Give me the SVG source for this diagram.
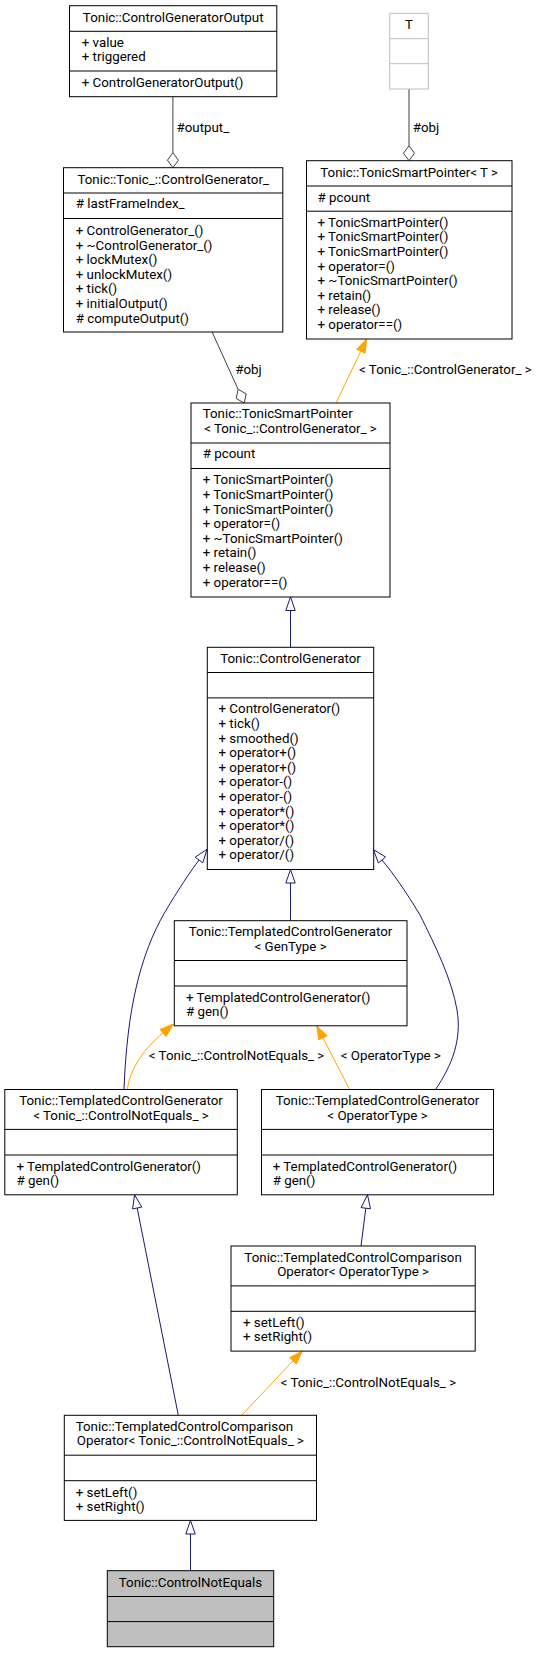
<svg xmlns="http://www.w3.org/2000/svg" width="540" height="1653" viewBox="0 0 540 1653">
<style>
text{font-family:Roboto,"Liberation Sans",sans-serif;font-size:13.33px;fill:#000}
.c{text-anchor:middle}
.box rect{fill:#fff;stroke:#000;stroke-width:1}
.box line{stroke:#000;stroke-width:1}
#n_T rect,#n_T line{stroke:#bfbfbf}
#n_CNE rect{fill:#bfbfbf}
.inh{stroke:#191970;fill:none;stroke-width:1}
.inhh{stroke:#191970;fill:#fff;stroke-width:1}
.tpl{stroke:#ffa500;fill:none;stroke-width:1}
.tplh{stroke:#ffa500;fill:#ffa500;stroke-width:1}
.use{stroke:#404040;fill:none;stroke-width:1}
.useh{stroke:#404040;fill:#fff;stroke-width:1}
</style>
<rect width="540" height="1653" fill="#fff"/>
<g id="edges">
<line class="use" x1="172.9" y1="96.7" x2="172.9" y2="152.7"/>
<polygon class="useh" points="172.9,167.7 178.4,160.2 172.9,152.7 167.4,160.2"/>
<text x="176.5" y="131.7">#output_</text>
<line class="use" x1="409" y1="89" x2="409" y2="145.7"/>
<polygon class="useh" points="409,160.7 414.5,153.2 409,145.7 403.5,153.2"/>
<text x="412.7" y="131.7">#obj</text>
<line class="use" x1="212.1" y1="332" x2="238.1" y2="389.3"/>
<polygon class="useh" points="244.3,403 246.2,393.9 238.1,389.3 236.2,398.5"/>
<text x="235.3" y="374.3">#obj</text>
<line class="tpl" x1="336" y1="403" x2="360.9" y2="351.2"/>
<polygon class="tplh" points="366.7,339 365.1,353.2 356.7,349.2"/>
<text x="359" y="374.3">&lt; Tonic_::ControlGenerator_ &gt;</text>
<line class="inh" x1="290.5" y1="647.3" x2="290.5" y2="610.5"/>
<polygon class="inhh" points="290.5,597 295.2,610.5 285.8,610.5"/>
<line class="inh" x1="290.5" y1="920.7" x2="290.5" y2="883"/>
<polygon class="inhh" points="290.5,869.5 295.2,883 285.8,883"/>
<path class="inh" d="M124,1089.5 C127,1010 140,955 165,912 C178,890 190,872 199,860"/>
<polygon class="inhh" points="207.1,849.2 202.8,862.8 195.2,857.2"/>
<path class="inh" d="M435.6,1089.5 C452,1065 462,1040 457,1010 C452,980 435,945 420,915 C405,890 392,872 382,860"/>
<polygon class="inhh" points="373.4,849.6 385.6,857 378.4,863"/>
<path class="tpl" d="M127.4,1089.5 C130,1068 145,1048 163,1033"/>
<polygon class="tplh" points="173.6,1024 166,1036.6 160,1029.4"/>
<text x="148.8" y="1060">&lt; Tonic_::ControlNotEquals_ &gt;</text>
<line class="tpl" x1="349.5" y1="1089.5" x2="323" y2="1037.8"/>
<polygon class="tplh" points="316.8,1025.8 327.2,1035.7 318.8,1040"/>
<text x="340.7" y="1060">&lt; OperatorType &gt;</text>
<line class="inh" x1="361" y1="1246" x2="365.8" y2="1208.2"/>
<polygon class="inhh" points="367.5,1194.8 370.5,1208.8 361.1,1207.6"/>
<line class="inh" x1="178.3" y1="1415.3" x2="137.2" y2="1208"/>
<polygon class="inhh" points="134.6,1194.8 141.8,1207.1 132.6,1208.9"/>
<line class="tpl" x1="241.7" y1="1415.3" x2="293" y2="1360.9"/>
<polygon class="tplh" points="302.3,1351.1 296.4,1364.1 289.6,1357.7"/>
<text x="280.6" y="1386.7">&lt; Tonic_::ControlNotEquals_ &gt;</text>
<line class="inh" x1="190.5" y1="1570.7" x2="190.5" y2="1534"/>
<polygon class="inhh" points="190.5,1520.4 195.2,1534 185.8,1534"/>
</g>
<g id="n_CGOutput" class="box">
<rect x="69.5" y="5.7" width="207.3" height="91"/>
<line x1="69.5" y1="31.3" x2="276.8" y2="31.3"/>
<line x1="69.5" y1="71" x2="276.8" y2="71"/>
<text class="c" x="173.2" y="21.7">Tonic::ControlGeneratorOutput</text>
<text x="81.7" y="46.7">+ value</text>
<text x="81.7" y="61.3">+ triggered</text>
<text x="81.7" y="86.7">+ ControlGeneratorOutput()</text>
</g>
<g id="n_T" class="box">
<rect x="389.7" y="13.3" width="38.6" height="75.7"/>
<line x1="389.7" y1="38.7" x2="428.3" y2="38.7"/>
<line x1="389.7" y1="63.7" x2="428.3" y2="63.7"/>
<text class="c" x="409" y="29.3">T</text>
</g>
<g id="n_CG_" class="box">
<rect x="63.5" y="167.7" width="219.3" height="164.3"/>
<line x1="63.5" y1="193" x2="282.8" y2="193"/>
<line x1="63.5" y1="218.5" x2="282.8" y2="218.5"/>
<text class="c" x="173.2" y="184">Tonic::Tonic_::ControlGenerator_</text>
<text x="75.7" y="208.3"># lastFrameIndex_</text>
<text x="75.7" y="235">+ ControlGenerator_()</text>
<text x="75.7" y="249.6">+ ~ControlGenerator_()</text>
<text x="75.7" y="264.2">+ lockMutex()</text>
<text x="75.7" y="278.8">+ unlockMutex()</text>
<text x="75.7" y="293.4">+ tick()</text>
<text x="75.7" y="308">+ initialOutput()</text>
<text x="75.7" y="322.6"># computeOutput()</text>
</g>
<g id="n_TSP_T" class="box">
<rect x="306.5" y="160.7" width="205.5" height="178.3"/>
<line x1="306.5" y1="186" x2="512" y2="186"/>
<line x1="306.5" y1="211.2" x2="512" y2="211.2"/>
<text class="c" x="409.2" y="176.7">Tonic::TonicSmartPointer&lt; T &gt;</text>
<text x="317.5" y="201.7"># pcount</text>
<text x="317.5" y="226.8">+ TonicSmartPointer()</text>
<text x="317.5" y="241.4">+ TonicSmartPointer()</text>
<text x="317.5" y="256">+ TonicSmartPointer()</text>
<text x="317.5" y="270.6">+ operator=()</text>
<text x="317.5" y="285.2">+ ~TonicSmartPointer()</text>
<text x="317.5" y="299.8">+ retain()</text>
<text x="317.5" y="314.4">+ release()</text>
<text x="317.5" y="329">+ operator==()</text>
</g>
<g id="n_TSP_CG" class="box">
<rect x="191" y="403" width="199" height="194"/>
<line x1="191" y1="443" x2="390" y2="443"/>
<line x1="191" y1="468.5" x2="390" y2="468.5"/>
<text x="202.7" y="418.3">Tonic::TonicSmartPointer</text>
<text class="c" x="290.5" y="433.3">&lt; Tonic_::ControlGenerator_ &gt;</text>
<text x="202.7" y="458.3"># pcount</text>
<text x="202.7" y="484.3">+ TonicSmartPointer()</text>
<text x="202.7" y="498.9">+ TonicSmartPointer()</text>
<text x="202.7" y="513.5">+ TonicSmartPointer()</text>
<text x="202.7" y="528.1">+ operator=()</text>
<text x="202.7" y="542.7">+ ~TonicSmartPointer()</text>
<text x="202.7" y="557.3">+ retain()</text>
<text x="202.7" y="571.9">+ release()</text>
<text x="202.7" y="586.5">+ operator==()</text>
</g>
<g id="n_CG" class="box">
<rect x="207.3" y="647.3" width="166.4" height="222.2"/>
<line x1="207.3" y1="672.5" x2="373.7" y2="672.5"/>
<line x1="207.3" y1="697.9" x2="373.7" y2="697.9"/>
<text class="c" x="290.5" y="663.3">Tonic::ControlGenerator</text>
<text x="218.5" y="713.3">+ ControlGenerator()</text>
<text x="218.5" y="727.9">+ tick()</text>
<text x="218.5" y="742.5">+ smoothed()</text>
<text x="218.5" y="757.1">+ operator+()</text>
<text x="218.5" y="771.7">+ operator+()</text>
<text x="218.5" y="786.3">+ operator-()</text>
<text x="218.5" y="800.9">+ operator-()</text>
<text x="218.5" y="815.5">+ operator*()</text>
<text x="218.5" y="830.1">+ operator*()</text>
<text x="218.5" y="844.7">+ operator/()</text>
<text x="218.5" y="859.3">+ operator/()</text>
</g>
<g id="n_TCG_Gen" class="box">
<rect x="174.3" y="920.7" width="232.7" height="105.1"/>
<line x1="174.3" y1="960.5" x2="407" y2="960.5"/>
<line x1="174.3" y1="986" x2="407" y2="986"/>
<text class="c" x="290.6" y="936">Tonic::TemplatedControlGenerator</text>
<text class="c" x="290.6" y="950.7">&lt; GenType &gt;</text>
<text x="186" y="1001.7">+ TemplatedControlGenerator()</text>
<text x="186" y="1016.3"># gen()</text>
</g>
<g id="n_TCG_CNE" class="box">
<rect x="4.8" y="1089.5" width="232.5" height="105.3"/>
<line x1="4.8" y1="1129.4" x2="237.3" y2="1129.4"/>
<line x1="4.8" y1="1155" x2="237.3" y2="1155"/>
<text class="c" x="121" y="1105">Tonic::TemplatedControlGenerator</text>
<text class="c" x="121" y="1119.8">&lt; Tonic_::ControlNotEquals_ &gt;</text>
<text x="16.5" y="1170.5">+ TemplatedControlGenerator()</text>
<text x="16.5" y="1185.1"># gen()</text>
</g>
<g id="n_TCG_Op" class="box">
<rect x="261.5" y="1089.5" width="232" height="105.3"/>
<line x1="261.5" y1="1129.4" x2="493.5" y2="1129.4"/>
<line x1="261.5" y1="1155" x2="493.5" y2="1155"/>
<text class="c" x="377.5" y="1105">Tonic::TemplatedControlGenerator</text>
<text class="c" x="377.5" y="1119.8">&lt; OperatorType &gt;</text>
<text x="272.7" y="1170.5">+ TemplatedControlGenerator()</text>
<text x="272.7" y="1185.1"># gen()</text>
</g>
<g id="n_TCCO_Op" class="box">
<rect x="231" y="1246" width="244.2" height="105.1"/>
<line x1="231" y1="1285.9" x2="475.2" y2="1285.9"/>
<line x1="231" y1="1311.3" x2="475.2" y2="1311.3"/>
<text class="c" x="353.1" y="1261.7">Tonic::TemplatedControlComparison</text>
<text class="c" x="353.1" y="1276.3">Operator&lt; OperatorType &gt;</text>
<text x="243" y="1326.7">+ setLeft()</text>
<text x="243" y="1341.3">+ setRight()</text>
</g>
<g id="n_TCCO_CNE" class="box">
<rect x="64.3" y="1415.3" width="252.2" height="105.1"/>
<line x1="64.3" y1="1455.2" x2="316.5" y2="1455.2"/>
<line x1="64.3" y1="1480.7" x2="316.5" y2="1480.7"/>
<text x="75.7" y="1430.7">Tonic::TemplatedControlComparison</text>
<text class="c" x="190.4" y="1445.3">Operator&lt; Tonic_::ControlNotEquals_ &gt;</text>
<text x="75.7" y="1496.7">+ setLeft()</text>
<text x="75.7" y="1511.3">+ setRight()</text>
</g>
<g id="n_CNE" class="box">
<rect x="107.3" y="1570.7" width="166.4" height="76"/>
<line x1="107.3" y1="1596.5" x2="273.7" y2="1596.5"/>
<line x1="107.3" y1="1621.6" x2="273.7" y2="1621.6"/>
<text class="c" x="190.5" y="1586.7">Tonic::ControlNotEquals</text>
</g>
</svg>
